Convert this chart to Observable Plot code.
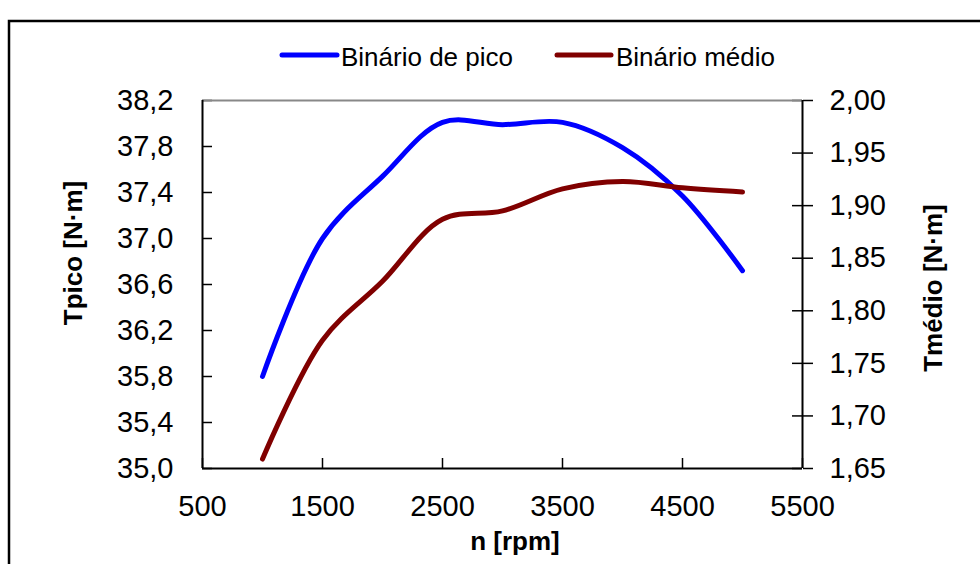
<!DOCTYPE html>
<html>
<head>
<meta charset="utf-8">
<script src="https://cdn.jsdelivr.net/npm/d3@7"></script>
<script src="https://cdn.jsdelivr.net/npm/@observablehq/plot@0.6"></script>
<style>
  html, body { margin: 0; padding: 0; background: #fff; }
  #chart { width: 980px; height: 564px; overflow: hidden; }
</style>
</head>
<body>
<div id="chart"></div>
<script>
// ---- data ----
const rpm = [1000, 1500, 2000, 2500, 3000, 3500, 4000, 4500, 5000];
const binarioPico = [35.80, 37.00, 37.54, 38.01, 37.99, 38.01, 37.79, 37.37, 36.72];
const binarioMedio = [1.659, 1.772, 1.828, 1.887, 1.895, 1.916, 1.923, 1.917, 1.913];
const xTicks = [500, 1500, 2500, 3500, 4500, 5500];
const leftTicks = [35.0, 35.4, 35.8, 36.2, 36.6, 37.0, 37.4, 37.8, 38.2];
const rightTicks = [1.65, 1.70, 1.75, 1.80, 1.85, 1.90, 1.95, 2.00];
const seriesNames = ["Binário de pico", "Binário médio"];
const seriesColors = ["#0000ff", "#800000"];

// right axis mapped onto left scale
const L0 = 35.0, L1 = 38.2, R0 = 1.65, R1 = 2.00;
const toLeft = v => L0 + (v - R0) * (L1 - L0) / (R1 - R0);
const fromLeft = v => R0 + (v - L0) * (R1 - R0) / (L1 - L0);
const comma = (f) => (d) => d3.format(f)(d).replace(".", ",");

const pico = rpm.map((x, i) => ({x, y: binarioPico[i]}));
const medio = rpm.map((x, i) => ({x, y: toLeft(binarioMedio[i])}));
const rightTicksL = rightTicks.map(toLeft);

const plot = Plot.plot({
  width: 980,
  height: 564,
  marginLeft: 202,
  marginRight: 178,
  marginTop: 100,
  marginBottom: 96,
  style: {fontFamily: "'Liberation Sans', Arial, sans-serif", color: "black", background: "white"},
  x: {domain: [500, 5500]},
  y: {domain: [L0, L1]},
  marks: [
    Plot.axisX(xTicks, {tickSize: 0, tickPadding: 27, fontSize: 29, tickFormat: d => String(d), label: null}),
    Plot.axisY(leftTicks, {anchor: "left", tickSize: 0, tickPadding: 29, fontSize: 29, tickFormat: comma(".1f"), label: null}),
    Plot.axisY(rightTicksL, {anchor: "right", tickSize: 10, tickPadding: 17, fontSize: 29, strokeWidth: 1.5,
      tickFormat: d => comma(".2f")(fromLeft(d)), label: null}),
    Plot.tickY(leftTicks, {y: d => d, insetRight: 590, stroke: "black", strokeWidth: 1.5}),
    Plot.tickY(rightTicksL, {y: d => d, insetLeft: 590, stroke: "black", strokeWidth: 1.5}),
    Plot.tickX(xTicks, {x: d => d, insetTop: 358, stroke: "black", strokeWidth: 1.5}),
    Plot.ruleY([L1], {stroke: "#888", strokeWidth: 2}),
    Plot.ruleX([500], {stroke: "black", strokeWidth: 2}),
    Plot.ruleX([5500], {stroke: "black", strokeWidth: 2}),
    Plot.ruleY([L0], {stroke: "black", strokeWidth: 2}),
    Plot.line(pico, {x: "x", y: "y", stroke: seriesColors[0], strokeWidth: 5, curve: "catmull-rom"}),
    Plot.line(medio, {x: "x", y: "y", stroke: seriesColors[1], strokeWidth: 5, curve: "catmull-rom"})
  ]
});

const svg = d3.select(plot);
const font = "'Liberation Sans', Arial, sans-serif";

// outer frame
svg.append("rect").attr("x", 9).attr("y", 21).attr("width", 976).attr("height", 600)
  .attr("fill", "none").attr("stroke", "black").attr("stroke-width", 2.5);

// legend
const legend = [
  {name: seriesNames[0], color: seriesColors[0], x0: 282, x1: 337, tx: 341},
  {name: seriesNames[1], color: seriesColors[1], x0: 557, x1: 611, tx: 616}
];
for (const l of legend) {
  svg.append("line").attr("x1", l.x0).attr("x2", l.x1).attr("y1", 55).attr("y2", 55)
    .attr("stroke", l.color).attr("stroke-width", 5).attr("stroke-linecap", "round");
  svg.append("text").attr("x", l.tx).attr("y", 66).attr("text-anchor", "start").attr("font-family", font)
    .attr("font-size", 26).attr("fill", "black").text(l.name);
}

// axis titles
svg.append("text").attr("transform", "translate(82,253) rotate(-90)").attr("text-anchor", "middle")
  .attr("font-family", font).attr("font-size", 26).attr("font-weight", "bold").attr("fill", "black")
  .text("Tpico [N·m]");
svg.append("text").attr("transform", "translate(942,288) rotate(-90)").attr("text-anchor", "middle")
  .attr("font-family", font).attr("font-size", 26).attr("font-weight", "bold").attr("fill", "black")
  .text("Tmédio [N·m]");
svg.append("text").attr("x", 515).attr("y", 550).attr("text-anchor", "middle")
  .attr("font-family", font).attr("font-size", 26).attr("font-weight", "bold").attr("fill", "black")
  .text("n [rpm]");

document.getElementById("chart").appendChild(plot);
</script>
</body>
</html>
